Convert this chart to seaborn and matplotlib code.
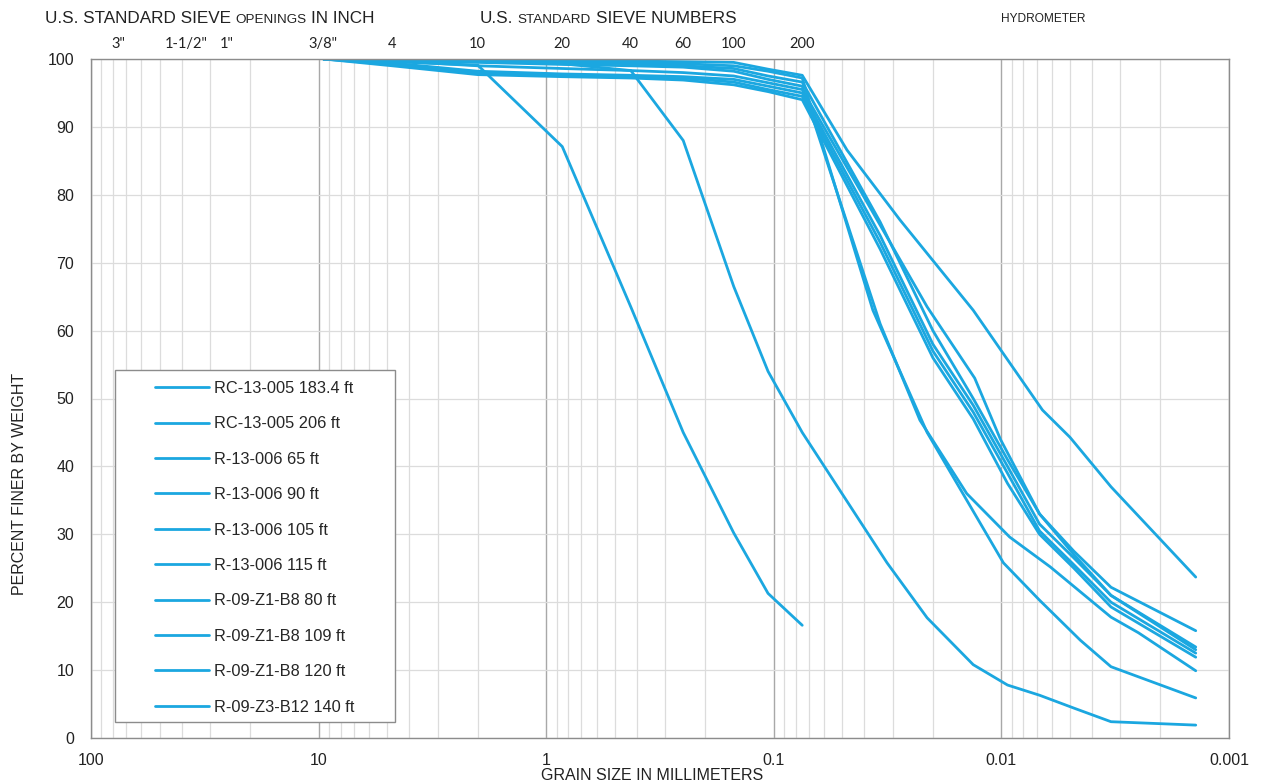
import numpy as np
import pandas as pd
import matplotlib
matplotlib.use("Agg")
import matplotlib.pyplot as plt
import seaborn as sns
from matplotlib.ticker import LogLocator, FixedLocator, NullFormatter
from matplotlib.patches import Rectangle

# ---------------- data ----------------
sample_names = ["RC-13-005 183.4 ft", "RC-13-005 206 ft", "R-13-006 65 ft", "R-13-006 90 ft",
                "R-13-006 105 ft", "R-13-006 115 ft", "R-09-Z1-B8 80 ft", "R-09-Z1-B8 109 ft",
                "R-09-Z1-B8 120 ft", "R-09-Z3-B12 140 ft"]

sieve_mm = [9.5, 4.75, 2.0, 0.85, 0.425, 0.25, 0.15, 0.106, 0.075]

s1_x = sieve_mm
s1_y = [100, 99.6, 99.1, 87.1, 63.5, 45.0, 30.2, 21.3, 16.6]

s2_x = sieve_mm + [0.0318, 0.0212, 0.0133, 0.0094, 0.0068, 0.0048, 0.0033, 0.0014]
s2_y = [100, 99.9, 99.7, 99.3, 98.3, 88.0, 66.5, 54.0, 45.0, 25.8, 17.7, 10.8, 7.8, 6.3, 4.4, 2.4, 1.9]

s3_x = sieve_mm + [0.0477, 0.0279, 0.0133, 0.0066, 0.0050, 0.0033, 0.0014]
s3_y = [100, 100, 99.9, 99.8, 99.7, 99.6, 99.5, 98.5, 97.6, 86.6, 76.3, 63.0, 48.3, 44.3, 37.0, 23.7]

s4_x = sieve_mm + [0.0341, 0.0200, 0.0133, 0.0094, 0.0068, 0.0048, 0.0033, 0.0014]
s4_y = [100, 99.9, 99.7, 99.5, 99.3, 99.0, 98.6, 97.5, 96.6, 76.0, 60.0, 50.0, 41.0, 33.0, 27.5, 22.2, 15.8]

s5_x = sieve_mm + [0.0212, 0.0131, 0.0101, 0.0068, 0.0048, 0.0033, 0.0014]
s5_y = [100, 99.7, 99.0, 98.6, 98.3, 98.0, 97.5, 96.5, 95.5, 63.5, 53.0, 44.0, 33.0, 27.0, 21.0, 13.4]

s6_x = sieve_mm + [0.0341, 0.0200, 0.0133, 0.0094, 0.0068, 0.0048, 0.0033, 0.0014]
s6_y = [100, 99.4, 98.2, 97.8, 97.6, 97.4, 97.0, 96.0, 95.0, 74.0, 58.0, 49.0, 40.0, 31.5, 26.5, 21.0, 13.0]

s7_x = sieve_mm + [0.0341, 0.0200, 0.0133, 0.0094, 0.0068, 0.0048, 0.0033, 0.0014]
s7_y = [100, 99.2, 97.9, 97.6, 97.4, 97.2, 96.6, 95.5, 94.5, 73.0, 57.0, 48.0, 39.0, 30.5, 25.5, 20.0, 12.5]

s8_x = sieve_mm + [0.0341, 0.0200, 0.0133, 0.0094, 0.0068, 0.0048, 0.0033, 0.0014]
s8_y = [100, 99.0, 97.7, 97.4, 97.2, 96.9, 96.2, 95.2, 94.0, 72.0, 56.0, 47.0, 37.5, 30.0, 25.0, 19.3, 11.9]

s9_x = sieve_mm + [0.0341, 0.0228, 0.0142, 0.0092, 0.0061, 0.0033, 0.0025, 0.0014]
s9_y = [100, 99.8, 99.5, 99.2, 99.0, 98.8, 98.2, 97.0, 96.0, 61.0, 46.8, 36.0, 29.6, 25.2, 17.8, 15.5, 9.9]

s10_x = sieve_mm + [0.0367, 0.0212, 0.0098, 0.0068, 0.0045, 0.0033, 0.0014]
s10_y = [100, 100, 99.9, 99.7, 99.5, 99.3, 99.0, 98.2, 97.2, 63.0, 45.0, 25.8, 20.3, 14.4, 10.5, 5.9]

all_x = [s1_x, s2_x, s3_x, s4_x, s5_x, s6_x, s7_x, s8_x, s9_x, s10_x]
all_y = [s1_y, s2_y, s3_y, s4_y, s5_y, s6_y, s7_y, s8_y, s9_y, s10_y]

x_tick_values = [100, 10, 1, 0.1, 0.01, 0.001]
x_tick_labels = ["100", "10", "1", "0.1", "0.01", "0.001"]
y_ticks = list(range(0, 101, 10))

sieve_label_mm = [76.2, 38.1, 25.4, 9.525, 4.75, 2.0, 0.85, 0.425, 0.25, 0.15, 0.075]
sieve_label_txt = ['3"', '1-1/2"', '1"', '3/8"', '4', '10', '20', '40', '60', '100', '200']

# ---------------- figure ----------------
W, H = 1262, 782
sns.set_theme(style="white")
plt.rcParams['font.family'] = ['Liberation Sans', 'DejaVu Sans']
LINE_COLOR = "#1BA7E0"

fig = plt.figure(figsize=(W / 100, H / 100), dpi=100)
ax = fig.add_axes([91 / W, 1 - 738 / H, (1229 - 91) / W, (738 - 59) / H])

rows = []
for name, xs, ys in zip(sample_names, all_x, all_y):
    for i, (xv, yv) in enumerate(zip(xs, ys)):
        rows.append({"sample": name, "order": i, "size": xv, "finer": yv})
df = pd.DataFrame(rows)

sns.lineplot(data=df, x="size", y="finer", hue="sample", hue_order=sample_names,
             palette={n: LINE_COLOR for n in sample_names}, sort=False, estimator=None,
             units="sample", linewidth=2.0, ax=ax, legend=True)

ax.set_xscale("log")
ax.set_xlim(100, 0.001)
ax.set_ylim(0, 100)
ax.xaxis.set_major_locator(FixedLocator(x_tick_values))
ax.set_xticks(x_tick_values)
ax.set_xticklabels(x_tick_labels)
ax.xaxis.set_minor_locator(LogLocator(base=10, subs=np.arange(2, 10)))
ax.xaxis.set_minor_formatter(NullFormatter())
ax.set_yticks(y_ticks)
ax.set_yticklabels([str(v) for v in y_ticks])
ax.tick_params(axis="both", which="both", length=0)
ax.tick_params(axis="x", pad=11, labelsize=11.5, colors="#222222")
ax.tick_params(axis="y", pad=12, labelsize=11.5, colors="#222222")

ax.grid(True, which="major", axis="x", color="#a8a8a8", linewidth=1.0)
ax.grid(True, which="minor", axis="x", color="#dcdcdc", linewidth=0.9)
ax.grid(True, which="major", axis="y", color="#dcdcdc", linewidth=0.9)
ax.set_axisbelow(True)
for sp in ax.spines.values():
    sp.set_color("#8c8c8c")
    sp.set_linewidth(1.0)

ax.set_xlabel("")
ax.set_ylabel("")

# legend
handles, labels = ax.get_legend_handles_labels()
ax.legend(handles, labels, loc="upper left", bbox_to_anchor=((155 - 91) / 1138, (738 - 381) / 679),
          frameon=False, fontsize=11.8, handlelength=3.3, handletextpad=0.3,
          labelspacing=1.245, borderaxespad=0, borderpad=0)
ax.add_patch(Rectangle(((115 - 91) / 1138, (738 - 722) / 679), (395 - 115) / 1138, (722 - 370) / 679,
                       transform=ax.transAxes, facecolor="white", edgecolor="#8c8c8c",
                       linewidth=1.0, zorder=2.5))
leg = ax.get_legend()
leg.set_zorder(5)

# axis titles
fig.text(652 / W, 1 - 775 / H, "GRAIN SIZE IN MILLIMETERS", ha="center", va="center",
         fontsize=11.5, color="#222222")
fig.text(20 / W, 1 - 484 / H, "PERCENT FINER BY WEIGHT", ha="center", va="center",
         rotation=90, fontsize=11.5, color="#222222")

# top sieve labels
for mm, txt in zip(sieve_label_mm, sieve_label_txt):
    ax.text(mm, 1 + (59 - 44) / 679, txt, transform=ax.get_xaxis_transform(), ha="center",
            va="center", fontsize=10.5, family=["Lato", "DejaVu Sans"], color="#222222")

renderer = fig.canvas.get_renderer()


def seq_text(x_px, base_px, pieces, gap=4.5):
    x = x_px
    for s, size in pieces:
        t = fig.text(x / W, 1 - base_px / H, s, fontsize=size, ha="left", va="baseline",
                     color="#222222")
        bb = t.get_window_extent(renderer)
        x += bb.width + gap


seq_text(45, 23, [("U.S. STANDARD SIEVE", 12.3), ("OPENINGS", 9.7), ("IN INCH", 12.3)])
seq_text(480, 23, [("U.S.", 12.3), ("STANDARD", 9.7), ("SIEVE NUMBERS", 12.3)])
fig.text(1043 / W, 1 - 22 / H, "HYDROMETER", fontsize=8.6, ha="center", va="baseline",
         color="#222222")

fig.savefig("out.png", dpi=100)
